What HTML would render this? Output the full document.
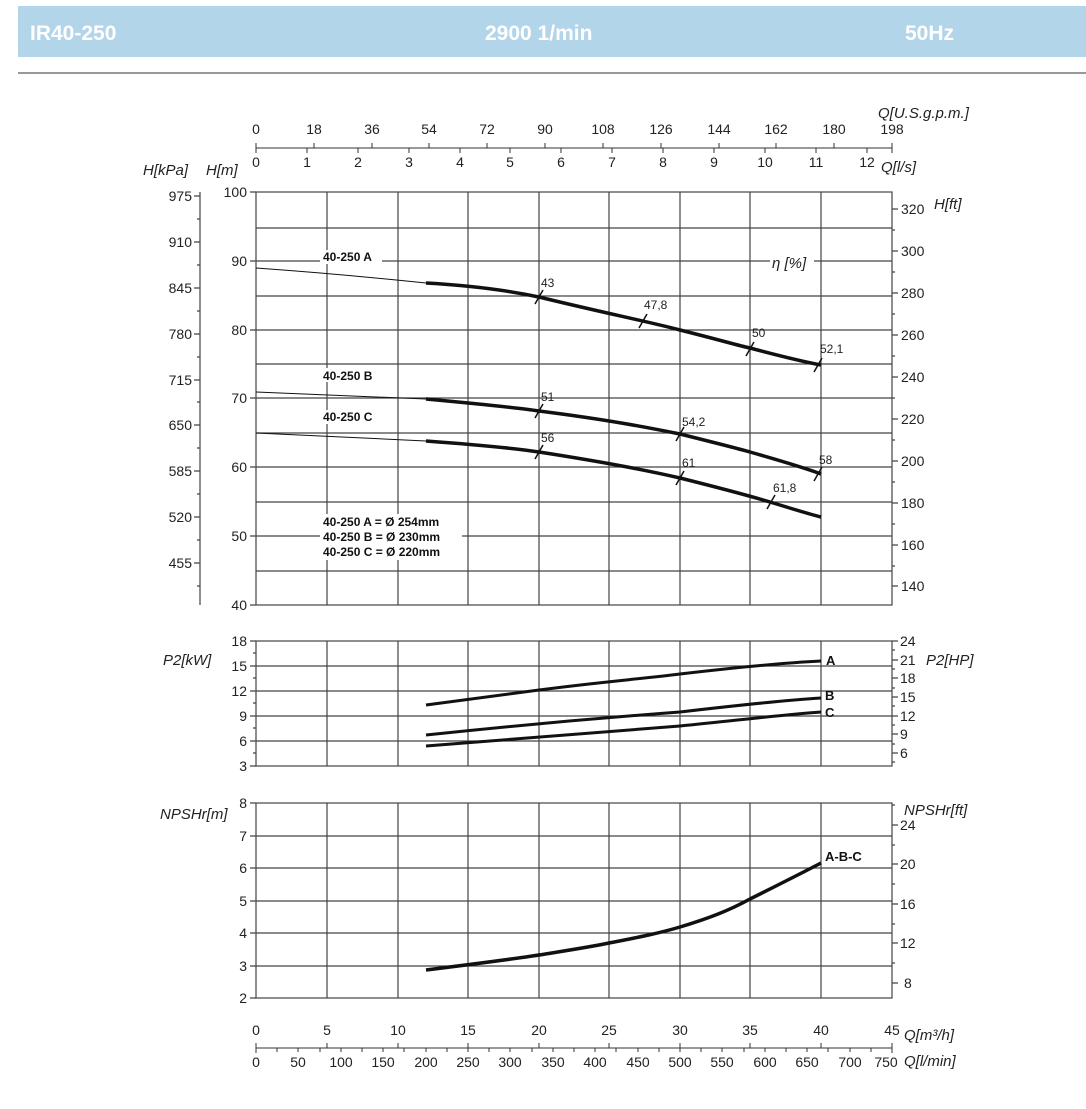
<!DOCTYPE html>
<html><head><meta charset="utf-8"><style>
body{margin:0;background:#fff;width:1086px;height:1104px;overflow:hidden;font-family:"Liberation Sans",sans-serif}
</style></head><body>
<svg width="1086" height="1104" viewBox="0 0 1086 1104" xmlns="http://www.w3.org/2000/svg" font-family="Liberation Sans, sans-serif">
<rect x="18" y="6" width="1068" height="51" fill="#b3d5ea"/>
<g fill="#fff" font-weight="bold" font-size="21">
<text x="30" y="40">IR40-250</text>
<text x="485" y="40">2900 1/min</text>
<text x="905" y="40">50Hz</text>
</g>
<line x1="18" y1="73" x2="1086" y2="73" stroke="#999" stroke-width="2"/>

<!-- top axis -->
<g stroke="#333" stroke-width="1">
<line x1="256" y1="148" x2="892" y2="148"/>
<path d="M256 143V153M314 143V148M372 143V148M429 143V148M487 143V148M545 143V148M603 143V148M661 143V148M719 143V148M776 143V148M834 143V148M892 143V153M307 148V153M358 148V153M409 148V153M460 148V153M510 148V153M561 148V153M612 148V153M663 148V153M714 148V153M765 148V153M816 148V153M867 148V153"/>
</g>
<g font-size="14" fill="#222" text-anchor="middle">
<text x="256" y="134">0</text><text x="314" y="134">18</text><text x="372" y="134">36</text><text x="429" y="134">54</text><text x="487" y="134">72</text><text x="545" y="134">90</text><text x="603" y="134">108</text><text x="661" y="134">126</text><text x="719" y="134">144</text><text x="776" y="134">162</text><text x="834" y="134">180</text><text x="892" y="134">198</text>
<text x="256" y="167">0</text><text x="307" y="167">1</text><text x="358" y="167">2</text><text x="409" y="167">3</text><text x="460" y="167">4</text><text x="510" y="167">5</text><text x="561" y="167">6</text><text x="612" y="167">7</text><text x="663" y="167">8</text><text x="714" y="167">9</text><text x="765" y="167">10</text><text x="816" y="167">11</text><text x="867" y="167">12</text>
</g>
<g font-size="15" fill="#222" font-style="italic">
<text x="878" y="118">Q[U.S.g.p.m.]</text>
<text x="881" y="172">Q[l/s]</text>
<text x="143" y="175">H[kPa]</text>
<text x="206" y="175">H[m]</text>
<text x="934" y="209">H[ft]</text>
<text x="163" y="665">P2[kW]</text>
<text x="926" y="665">P2[HP]</text>
<text x="160" y="819">NPSHr[m]</text>
<text x="904" y="815">NPSHr[ft]</text>
<text x="904" y="1040">Q[m³/h]</text>
<text x="904" y="1066">Q[l/min]</text>
</g>

<!-- H chart grid -->
<g stroke="#444" stroke-width="1.2">
<path d="M256 228H892M256 261H892M256 296H892M256 330H892M256 364H892M256 398H892M256 433H892M256 467H892M256 502H892M256 536H892M256 571H892"/>
<path d="M327 192V605M398 192V605M468 192V605M539 192V605M609 192V605M680 192V605M750 192V605M821 192V605"/>
<rect x="256" y="192" width="636" height="413" fill="none"/>
<!-- left ticks -->
<path d="M250 192H256M250 261H256M250 330H256M250 398H256M250 467H256M250 536H256M250 605H256"/>
<!-- kPa axis -->
<path d="M200 192V605M194 196H200M194 242H200M194 288H200M194 334H200M194 380H200M194 425H200M194 471H200M194 517H200M194 563H200M197 219H200M197 265H200M197 311H200M197 357H200M197 402H200M197 448H200M197 494H200M197 540H200M197 586H200"/>
<!-- ft ticks -->
<path d="M892 209H898M892 251H898M892 293H898M892 335H898M892 377H898M892 419H898M892 461H898M892 503H898M892 545H898M892 586H898M892 230H895M892 272H895M892 314H895M892 356H895M892 398H895M892 440H895M892 482H895M892 524H895M892 566H895"/>
</g>
<g font-size="14" fill="#222" text-anchor="end">
<text x="247" y="197">100</text><text x="247" y="266">90</text><text x="247" y="335">80</text><text x="247" y="403">70</text><text x="247" y="472">60</text><text x="247" y="541">50</text><text x="247" y="610">40</text>
<text x="192" y="201">975</text><text x="192" y="247">910</text><text x="192" y="293">845</text><text x="192" y="339">780</text><text x="192" y="385">715</text><text x="192" y="430">650</text><text x="192" y="476">585</text><text x="192" y="522">520</text><text x="192" y="568">455</text>
</g>
<g font-size="14" fill="#222">
<text x="901" y="214">320</text><text x="901" y="256">300</text><text x="901" y="298">280</text><text x="901" y="340">260</text><text x="901" y="382">240</text><text x="901" y="424">220</text><text x="901" y="466">200</text><text x="901" y="508">180</text><text x="901" y="550">160</text><text x="901" y="591">140</text>
</g>
<rect x="770" y="252" width="44" height="18" fill="#fff"/>
<text x="772" y="268" font-size="15" font-style="italic" fill="#222">η [%]</text>
<g font-size="12" font-weight="bold" fill="#111">
<rect x="320" y="250" width="62" height="14" fill="#fff"/>
<text x="323" y="261">40-250 A</text>
<rect x="320" y="368" width="62" height="14" fill="#fff"/>
<text x="323" y="380">40-250 B</text>
<rect x="320" y="410" width="62" height="14" fill="#fff"/>
<text x="323" y="421">40-250 C</text>
<rect x="320" y="514" width="142" height="46" fill="#fff"/>
<text x="323" y="526">40-250 A = Ø 254mm</text>
<text x="323" y="541">40-250 B = Ø 230mm</text>
<text x="323" y="556">40-250 C = Ø 220mm</text>
</g>
<!-- curves -->
<g fill="none" stroke="#111">
<path d="M256 268 Q340 274 426 283" stroke-width="1"/>
<path d="M426 283 C480 286 520 293 539 297 C600 312 650 322 680 330 C720 340 740 346 750 348 C780 356 800 361 821 365" stroke-width="3.5"/>
<path d="M256 392 L426 399" stroke-width="1"/>
<path d="M426 399 C480 404 520 408 539 411 C610 420 650 428 680 434 C720 444 740 449 750 452 C785 462 805 468 821 474" stroke-width="3.5"/>
<path d="M256 433 L426 441" stroke-width="1"/>
<path d="M426 441 C480 445 520 449 539 452 C610 463 650 471 680 478 C720 488 750 496 770 502 C790 508 805 513 821 517" stroke-width="3.5"/>
<g stroke-width="1.5"><path d="M535 304L543 290M639 328L647 314M746 356L754 342M814 372L822 358M535 418L543 404M676 441L684 427M814 481L822 467M535 459L543 445M676 485L684 471M767 509L775 495"/></g>
</g>
<g font-size="12" fill="#222">
<text x="541" y="287">43</text><text x="644" y="309">47,8</text><text x="752" y="337">50</text><text x="820" y="353">52,1</text>
<text x="541" y="401">51</text><text x="682" y="426">54,2</text><text x="819" y="464">58</text>
<text x="541" y="442">56</text><text x="682" y="467">61</text><text x="773" y="492">61,8</text>
</g>

<!-- P2 chart -->
<g stroke="#444" stroke-width="1.2">
<path d="M256 666H892M256 691H892M256 716H892M256 741H892"/>
<path d="M327 641V766M398 641V766M468 641V766M539 641V766M609 641V766M680 641V766M750 641V766M821 641V766"/>
<rect x="256" y="641" width="636" height="125" fill="none"/>
<path d="M250 641H256M250 666H256M250 691H256M250 716H256M250 741H256M250 766H256M253 653H256M253 678H256M253 703H256M253 728H256M253 753H256"/>
<path d="M892 641H898M892 660H898M892 678H898M892 697H898M892 716H898M892 734H898M892 753H898M892 650H895M892 669H895M892 688H895M892 706H895M892 725H895M892 744H895M892 762H895"/>
</g>
<g font-size="14" fill="#222" text-anchor="end">
<text x="247" y="646">18</text><text x="247" y="671">15</text><text x="247" y="696">12</text><text x="247" y="721">9</text><text x="247" y="746">6</text><text x="247" y="771">3</text>
</g>
<g font-size="14" fill="#222">
<text x="900" y="646">24</text><text x="900" y="665">21</text><text x="900" y="683">18</text><text x="900" y="702">15</text><text x="900" y="721">12</text><text x="900" y="739">9</text><text x="900" y="758">6</text>
</g>
<g fill="none" stroke="#111" stroke-width="3">
<path d="M426 705 C480 698 510 694 539 690 C600 682 640 679 680 674 C740 667 780 663 821 661"/>
<path d="M426 735 C520 725 600 718 680 712 C740 705 790 700 821 698"/>
<path d="M426 746 C520 738 600 732 680 726 C740 720 790 714 821 712"/>
</g>
<g font-size="13" font-weight="bold" fill="#111">
<text x="826" y="665">A</text><text x="825" y="700">B</text><text x="825" y="717">C</text>
</g>

<!-- NPSH chart -->
<g stroke="#444" stroke-width="1.2">
<path d="M256 836H892M256 868H892M256 901H892M256 933H892M256 966H892"/>
<path d="M327 803V998M398 803V998M468 803V998M539 803V998M609 803V998M680 803V998M750 803V998M821 803V998"/>
<rect x="256" y="803" width="636" height="195" fill="none"/>
<path d="M250 803H256M250 836H256M250 868H256M250 901H256M250 933H256M250 966H256M250 998H256"/>
<path d="M892 825H898M892 864H898M892 904H898M892 943H898M892 983H898M892 805H895M892 845H895M892 884H895M892 924H895M892 963H895"/>
</g>
<g font-size="14" fill="#222" text-anchor="end">
<text x="247" y="808">8</text><text x="247" y="841">7</text><text x="247" y="873">6</text><text x="247" y="906">5</text><text x="247" y="938">4</text><text x="247" y="971">3</text><text x="247" y="1003">2</text>
</g>
<g font-size="14" fill="#222">
<text x="900" y="830">24</text><text x="900" y="869">20</text><text x="900" y="909">16</text><text x="900" y="948">12</text><text x="904" y="988">8</text>
</g>
<path d="M426 970 C490 962 520 958 539 955 C570 950 590 947 609 943 C640 937 660 933 680 927 C710 918 730 910 750 899 C780 884 800 874 821 863" fill="none" stroke="#111" stroke-width="3.5"/>
<text x="825" y="861" font-size="13" font-weight="bold" fill="#111">A-B-C</text>

<!-- bottom axis -->
<g stroke="#333" stroke-width="1">
<line x1="256" y1="1048" x2="892" y2="1048"/>
<path d="M256 1043V1053M327 1043V1048M398 1043V1048M468 1043V1048M539 1043V1048M609 1043V1048M680 1043V1048M750 1043V1048M821 1043V1048M892 1043V1053"/>
<path d="M277 1048V1052M298 1048V1052M320 1048V1052M341 1048V1052M362 1048V1052M383 1048V1052M404 1048V1052M426 1048V1052M447 1048V1052M468 1048V1052M489 1048V1052M510 1048V1052M532 1048V1052M553 1048V1052M574 1048V1052M595 1048V1052M616 1048V1052M638 1048V1052M659 1048V1052M680 1048V1052M701 1048V1052M722 1048V1052M744 1048V1052M765 1048V1052M786 1048V1052M807 1048V1052M828 1048V1052M850 1048V1052M871 1048V1052"/>
</g>
<g font-size="14" fill="#222" text-anchor="middle">
<text x="256" y="1035">0</text><text x="327" y="1035">5</text><text x="398" y="1035">10</text><text x="468" y="1035">15</text><text x="539" y="1035">20</text><text x="609" y="1035">25</text><text x="680" y="1035">30</text><text x="750" y="1035">35</text><text x="821" y="1035">40</text><text x="892" y="1035">45</text>
<text x="256" y="1067">0</text><text x="298" y="1067">50</text><text x="341" y="1067">100</text><text x="383" y="1067">150</text><text x="426" y="1067">200</text><text x="468" y="1067">250</text><text x="510" y="1067">300</text><text x="553" y="1067">350</text><text x="595" y="1067">400</text><text x="638" y="1067">450</text><text x="680" y="1067">500</text><text x="722" y="1067">550</text><text x="765" y="1067">600</text><text x="807" y="1067">650</text><text x="850" y="1067">700</text><text x="886" y="1067">750</text>
</g>
</svg>
</body></html>
